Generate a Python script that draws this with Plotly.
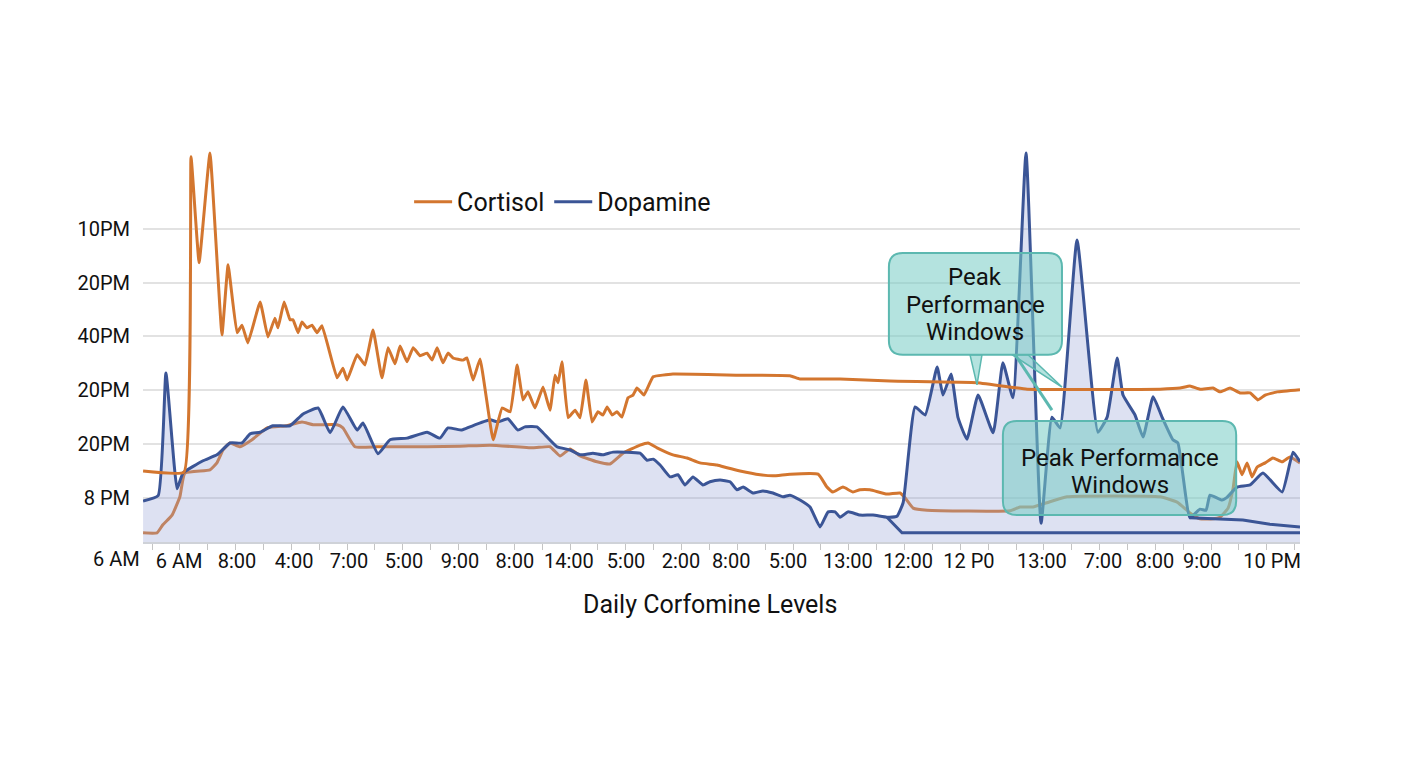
import plotly.graph_objects as go

# ---------------- data (x in time-step units, y in level units) ----------------
cortisol_x = [-0.32, 1.15, 1.40, 1.69, 2.08, 2.51, 2.73, 3.05, 3.23, 3.44, 3.88, 4.16, 4.41, 4.52, 4.74,
              4.95, 5.06, 5.24, 5.38, 5.56, 5.74, 5.92, 6.10, 6.64, 6.85, 7.00, 7.36, 7.64, 7.93, 8.25,
              8.47, 8.72, 8.90, 9.15, 9.37, 9.62, 9.87, 10.05, 10.23, 10.44, 10.62, 10.80, 11.16, 11.30,
              11.52, 11.77, 12.24, 12.56, 12.85, 13.10, 13.31, 13.49, 13.74, 14.03, 14.28, 14.46, 14.57,
              14.71, 14.93, 15.18, 15.36, 15.57, 15.79, 16.00, 16.18, 16.33, 16.51, 16.68, 16.86, 17.08,
              17.26, 17.40, 17.65, 17.98, 18.69, 21.10, 22.89, 23.25, 24.69, 26.48, 29.60, 30.79, 31.40,
              36.17, 36.89, 37.24, 37.60, 38.07, 38.32, 38.68, 39.04, 39.40, 39.68, 39.94, 40.37, 41.19]
cortisol_y = [13.2, 13.0, 71.6, 51.9, 72.3, 38.5, 51.5, 38.9, 40.3, 37.0, 44.6, 38.1, 41.6, 39.8, 44.6,
              41.3, 41.3, 38.9, 40.9, 39.8, 40.3, 38.9, 40.2, 30.5, 32.3, 30.1, 34.8, 32.9, 39.4, 30.5,
              36.1, 33.1, 36.4, 33.5, 36.1, 34.6, 35.1, 33.8, 36.1, 33.3, 35.1, 34.2, 33.8, 34.2,
              30.1, 34.0, 19.0, 24.9, 24.2, 32.9, 26.4, 27.9, 24.9, 28.8, 24.5, 31.0, 29.6,
              33.5, 23.1, 24.5, 23.1, 30.1, 22.3, 24.2, 23.6, 25.1, 23.6, 24.2, 23.2, 26.8,
              27.3, 28.6, 27.3, 30.7, 31.2, 31.0, 30.9, 30.3, 30.3, 29.9, 29.6, 28.8, 28.4,
              28.4, 28.6, 29.0, 28.4, 28.6, 27.9, 28.6, 27.7, 27.7, 26.4, 27.3, 27.9, 28.3]

cortisol_low_x = [-0.32, 0.18, 0.39, 0.72, 1.00, 1.18, 2.08, 2.33, 2.55, 2.80, 3.16, 3.59, 4.13, 4.84,
                  5.38, 5.78, 6.64, 6.85, 7.28, 8.07, 9.87, 11.05, 12.13, 13.67, 14.28, 14.64, 15.00,
                  15.36, 15.97, 16.43, 16.90, 17.51, 17.80, 18.12, 18.69, 19.20, 19.66, 20.27, 20.63,
                  21.10, 21.82, 22.28, 22.89, 23.90, 24.22, 24.43, 24.79, 25.15, 25.40, 25.76, 26.37,
                  26.84, 27.02, 27.31, 27.81, 30.79, 31.14, 31.61, 32.11, 32.83, 36.17, 36.78, 37.24,
                  37.60, 38.07, 38.32, 38.61, 38.79, 38.93, 39.11, 39.29, 39.47, 39.65, 39.94, 40.22,
                  40.55, 40.83, 41.19]
cortisol_low_y = [1.7, 1.7, 3.2, 5.0, 8.4, 12.8, 13.4, 14.7, 17.1, 18.4, 17.7, 19.0, 21.2, 21.6,
                  22.3, 21.8, 21.8, 21.2, 17.7, 17.7, 17.7, 17.8, 18.0, 17.5, 17.7, 16.0, 17.3,
                  16.0, 14.9, 14.5, 16.5, 18.0, 18.4, 17.5, 16.2, 15.6, 14.7, 14.3, 13.8,
                  13.2, 12.5, 12.3, 12.6, 12.6, 10.2, 9.3, 10.2, 9.3, 9.7, 9.7, 8.9,
                  9.1, 8.2, 6.3, 5.9, 5.8, 6.5, 6.5, 7.3, 8.4, 8.4, 7.4, 5.4,
                  4.3, 4.3, 4.6, 6.3, 10.0, 14.9, 12.5, 14.7, 12.1, 13.9, 14.7, 15.6,
                  14.9, 15.8, 14.7]

dopamine_x = [-0.32, 0.22, 0.50, 0.90, 1.11, 1.83, 2.33, 2.80, 3.23, 3.52, 3.88, 4.34, 4.95, 5.42,
              5.96, 6.39, 6.85, 7.36, 7.57, 8.11, 8.54, 9.15, 9.87, 10.33, 10.62, 11.12, 11.41, 12.13,
              12.41, 12.77, 13.13, 13.38, 13.81, 14.03, 14.53, 15.00, 15.36, 15.82, 16.18, 16.54, 17.51,
              17.76, 17.98, 18.23, 18.59, 18.87, 19.12, 19.41, 19.77, 20.02, 20.38, 20.74, 20.99, 21.21,
              21.56, 21.92, 22.28, 22.64, 22.89, 23.25, 23.61, 23.97, 24.26, 24.51, 24.69, 24.97, 25.40,
              25.87, 26.37, 26.73, 26.95, 27.38, 27.74, 28.17, 28.38, 28.67, 28.92, 29.24, 29.64, 30.18,
              30.53, 30.89, 31.36, 31.90, 32.29, 32.58, 33.19, 33.94, 34.27, 34.63, 34.84, 35.27, 35.56,
              35.92, 36.24, 36.63, 36.81, 37.24, 37.60, 37.82, 37.96, 38.39, 38.57, 38.93, 39.40, 39.86,
              40.55, 40.94, 41.19]
dopamine_y = [7.6, 8.6, 31.4, 9.9, 12.8, 15.1, 16.2, 18.4, 18.4, 20.1, 20.4, 21.6, 21.6, 23.8,
              24.9, 20.3, 25.1, 20.8, 22.1, 16.4, 19.0, 19.3, 20.4, 19.3, 21.2, 20.8, 21.4, 22.7,
              22.3, 22.9, 20.8, 21.4, 21.4, 20.3, 17.7, 17.1, 16.2, 16.5, 16.2, 16.7, 16.5,
              15.2, 15.4, 14.3, 12.1, 12.5, 10.6, 12.1, 10.6, 11.2, 11.5, 11.2, 9.7, 10.2,
              9.1, 9.5, 9.1, 8.4, 8.7, 7.8, 6.5, 2.8, 5.6, 5.6, 4.6, 5.6, 5.0,
              5.0, 4.6, 4.8, 7.3, 25.1, 23.6, 32.5, 27.3, 31.2, 23.1, 19.1, 27.3, 20.3,
              33.3, 26.8, 72.3, 3.5, 23.2, 21.2, 56.1, 20.4, 23.2, 34.2, 27.3, 23.6, 19.5,
              27.0, 23.2, 19.0, 18.4, 4.5, 6.1, 5.9, 8.7, 7.8, 8.3, 10.2, 10.6, 12.8,
              9.3, 16.7, 14.9]

dopamine_base_x = [26.37, 26.91, 41.19]
dopamine_base_y = [4.6, 1.7, 1.7]

dopamine_tail_x = [37.24, 38.21, 39.14, 40.11, 41.19]
dopamine_tail_y = [4.5, 4.3, 4.1, 3.3, 2.8]

x_tick_vals = [0.97, 3.05, 5.10, 7.07, 9.04, 11.05, 13.02, 14.96, 17.01, 18.98, 20.78, 22.82,
               24.97, 27.13, 29.31, 31.93, 34.12, 35.99, 37.68, 40.19]
x_tick_text = ["6 AM", "8:00", "4:00", "7:00", "5:00", "9:00", "8:00", "14:00", "5:00", "2:00",
               "8:00", "5:00", "13:00", "12:00", "12 P0", "13:00", "7:00", "8:00", "9:00", "10 PM"]
x_first_label = "6 AM"

y_tick_vals = [8.2, 18.2, 28.2, 38.2, 48.2, 58.2]
y_tick_text = ["8 PM", "20PM", "20PM", "40PM", "20PM", "10PM"]

X_RANGE = [-0.323, 41.19]
Y_RANGE = [0, 73.4]

ORANGE = "#D3762F"
BLUE = "#3B5596"
FILL = "rgba(150,162,215,0.32)"
TEAL_FILL = "rgba(118,204,196,0.55)"
TEAL_LINE = "rgb(92,184,176)"
FONT = "Roboto, Arial, sans-serif"
LW = 3

fig = go.Figure()

fig.add_trace(go.Scatter(x=cortisol_low_x, y=cortisol_low_y, mode="lines",
                         line=dict(color=ORANGE, width=LW, shape="spline", smoothing=0.4),
                         showlegend=False, hoverinfo="skip"))
fig.add_trace(go.Scatter(x=dopamine_x, y=dopamine_y, mode="lines", fill="tozeroy",
                         fillcolor=FILL, line=dict(width=0, shape="spline", smoothing=0.4),
                         showlegend=False, hoverinfo="skip"))
fig.add_trace(go.Scatter(x=dopamine_tail_x, y=dopamine_tail_y, mode="lines",
                         line=dict(color=BLUE, width=LW), showlegend=False))
fig.add_trace(go.Scatter(x=dopamine_base_x, y=dopamine_base_y, mode="lines",
                         line=dict(color=BLUE, width=LW), showlegend=False))
fig.add_trace(go.Scatter(x=dopamine_x, y=dopamine_y, mode="lines", name="Dopamine",
                         line=dict(color=BLUE, width=LW, shape="spline", smoothing=0.4),
                         legendrank=2))
fig.add_trace(go.Scatter(x=cortisol_x, y=cortisol_y, mode="lines", name="Cortisol",
                         line=dict(color=ORANGE, width=LW, shape="spline", smoothing=0.3),
                         legendrank=1))

# ---------------- callout boxes ----------------
def rrect(x0, x1, y0, y1, rx, ry):
    return (f"M{x0+rx},{y1} L{x1-rx},{y1} Q{x1},{y1} {x1},{y1-ry} L{x1},{y0+ry} "
            f"Q{x1},{y0} {x1-rx},{y0} L{x0+rx},{y0} Q{x0},{y0} {x0},{y0+ry} "
            f"L{x0},{y1-ry} Q{x0},{y1} {x0+rx},{y1} Z")

box1 = dict(x0=26.44, x1=32.65, y0=34.8, y1=53.7)
box2 = dict(x0=30.53, x1=38.90, y0=5.0, y1=22.5)
RX, RY = 0.5, 2.6

shapes = [
    dict(type="path", path="M29.35,34.8 L29.78,34.8 L29.60,29.2 Z", fillcolor=TEAL_FILL,
         line=dict(color=TEAL_LINE, width=1.5), layer="above"),
    dict(type="path", path="M30.86,34.8 L31.43,34.8 L32.65,28.8 Z", fillcolor=TEAL_FILL,
         line=dict(color=TEAL_LINE, width=1.5), layer="above"),
    dict(type="line", x0=30.97, y0=34.8, x1=32.29, y1=24.5,
         line=dict(color=TEAL_LINE, width=3), layer="above"),
    dict(type="path", path=rrect(box1["x0"], box1["x1"], box1["y0"], box1["y1"], RX, RY),
         fillcolor=TEAL_FILL, line=dict(color=TEAL_LINE, width=2), layer="above"),
    dict(type="path", path=rrect(box2["x0"], box2["x1"], box2["y0"], box2["y1"], RX, RY),
         fillcolor=TEAL_FILL, line=dict(color=TEAL_LINE, width=2), layer="above"),
]

annotations = []
for txt, yv in [("Peak", 49.3), ("Performance", 44.1), ("Windows", 39.0)]:
    annotations.append(dict(x=29.53, y=yv, xref="x", yref="y", text=txt, showarrow=False,
                            font=dict(family=FONT, size=24, color="#111111")))
for txt, yv in [("Peak Performance", 15.6), ("Windows", 10.6)]:
    annotations.append(dict(x=34.73, y=yv, xref="x", yref="y", text=txt, showarrow=False,
                            font=dict(family=FONT, size=24, color="#111111")))
annotations.append(dict(x=-0.0225, y=0, xref="paper", yref="paper", yanchor="middle",
                        xanchor="center", yshift=-17,
                        text=x_first_label, showarrow=False,
                        font=dict(family=FONT, size=20, color="#111111")))
annotations.append(dict(x=0.49, y=-0.157, xref="paper", yref="paper", yanchor="middle",
                        xanchor="center", text="Daily Corfomine Levels",
                        showarrow=False, font=dict(family=FONT, size=25, color="#111111")))

fig.update_layout(
    width=1408, height=768,
    margin=dict(l=143, r=108, t=147, b=226),
    paper_bgcolor="white", plot_bgcolor="white",
    font=dict(family=FONT, color="#111111"),
    shapes=shapes, annotations=annotations,
    legend=dict(orientation="h", x=0.23, y=0.861, xanchor="left", yanchor="middle",
                font=dict(family=FONT, size=25, color="#111111"), bgcolor="rgba(0,0,0,0)",
                itemwidth=38, traceorder="normal"),
    xaxis=dict(range=X_RANGE, tickmode="array", tickvals=x_tick_vals, ticktext=x_tick_text,
               ticks="", showgrid=False, zeroline=False, showline=True, linecolor="#cfd2d8",
               linewidth=2, tickfont=dict(family=FONT, size=20, color="#111111"),
               ticklabelstandoff=0,
               minor=dict(ticks="outside", tickmode="linear", tick0=0, dtick=1, ticklen=6,
                          tickcolor="#c4c4c4", tickwidth=1, showgrid=False)),
    yaxis=dict(range=Y_RANGE, tickmode="array", tickvals=y_tick_vals, ticktext=y_tick_text,
               ticks="", showgrid=True, gridcolor="#e2e2e2", gridwidth=1.5, zeroline=False,
               showline=False, tickfont=dict(family=FONT, size=20, color="#111111"),
               ticklabelstandoff=12),
)

fig.write_html("out.html")
